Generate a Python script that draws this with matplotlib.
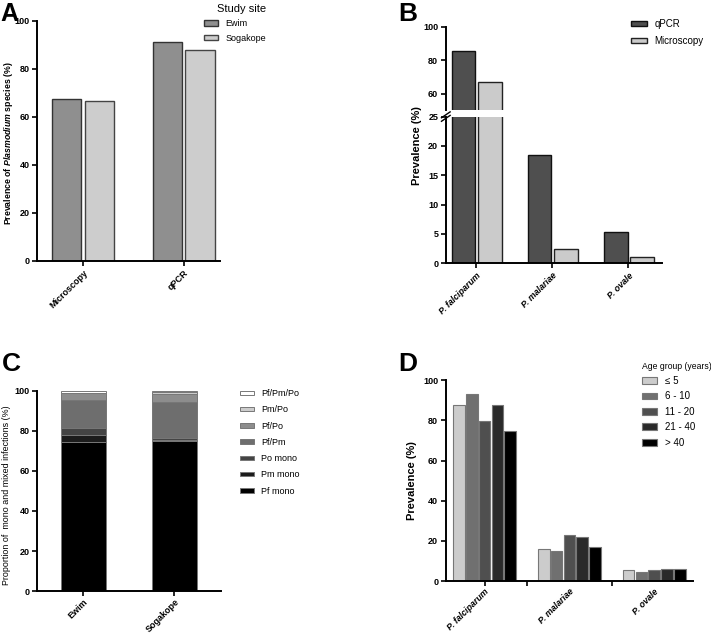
import numpy as np
import matplotlib
matplotlib.use("Agg")
import matplotlib.pyplot as plt

plt.rcParams['font.family'] = ['Liberation Sans', 'DejaVu Sans']
plt.rcParams['mathtext.fontset'] = 'custom'
plt.rcParams['mathtext.it'] = 'Liberation Sans:bold:italic'
plt.rcParams['mathtext.rm'] = 'Liberation Sans:bold'

# ---- data ----
# A: prevalence by method and study site
methods_a = ['Microscopy', 'qPCR']
ewim_a = [67.3, 91.4]
sogakope_a = [66.6, 87.9]

# B: prevalence by species and method (broken axis)
species = ['P. falciparum', 'P. malariae', 'P. ovale']
qpcr_b = [85.5, 18.4, 5.4]
micro_b = [66.8, 2.4, 1.0]

# C: mono and mixed infections by site
sites_c = ['Ewim', 'Sogakope']
infection_types = ['Pf mono', 'Pm mono', 'Po mono', 'Pf/Pm', 'Pf/Po', 'Pm/Po', 'Pf/Pm/Po']
infection_props = {
    'Pf mono': [74.2, 74.9],
    'Pm mono': [3.8, 0.5],
    'Po mono': [3.2, 1.1],
    'Pf/Pm': [14.2, 17.8],
    'Pf/Po': [3.3, 4.1],
    'Pm/Po': [0.0, 1.0],
    'Pf/Pm/Po': [1.3, 0.6],
}

# D: prevalence by species and age group
age_groups = ['\u2264 5', '6 - 10', '11 - 20', '21 - 40', '> 40']
age_prev = [
    [87.6, 16.1, 5.7],
    [93.2, 14.8, 4.6],
    [79.7, 23.1, 5.7],
    [87.6, 22.0, 6.0],
    [74.8, 17.2, 6.3],
]

fig = plt.figure(figsize=(7.11, 6.35), dpi=100)

tick_fs = 6.5
xtick_fs = 6
sp_fs = 6.4
lab_fs = 7.5


def style_axis(ax):
    for s in ['top', 'right']:
        ax.spines[s].set_visible(False)
    for s in ['left', 'bottom']:
        ax.spines[s].set_linewidth(1.4)
    ax.tick_params(width=1.2, length=3.5, labelsize=tick_fs, pad=2)
    for lab in ax.get_yticklabels():
        lab.set_fontweight('bold')


# ---- Panel A ----
axA = fig.add_axes([0.052, 0.589, 0.257, 0.378])
x = np.arange(len(methods_a))
axA.bar(x - 0.162, ewim_a, 0.29, color='#8f8f8f', edgecolor='#333333', linewidth=1, label='Ewim')
axA.bar(x + 0.162, sogakope_a, 0.29, color='#cdcdcd', edgecolor='#444444', linewidth=1, label='Sogakope')
axA.set_xlim(-0.455, 1.356)
axA.set_ylim(0, 100)
axA.set_yticks(range(0, 101, 20))
axA.set_xticks(x)
axA.set_xticklabels(methods_a, rotation=45, ha='right', rotation_mode='anchor',
                    fontweight='bold', fontsize=xtick_fs)
axA.set_ylabel('Prevalence of $\\it{Plasmodium}$ species (%)', fontsize=6.3,
               fontweight='bold')
axA.yaxis.set_label_coords(-0.12, 0.49)
style_axis(axA)
axA.legend(loc='upper left', bbox_to_anchor=(0.278, 1.004), bbox_transform=fig.transFigure,
           frameon=False, fontsize=6.5, title='Study site', title_fontsize=8,
           handlelength=1.6, handleheight=0.5, labelspacing=0.6, alignment='right', borderpad=0.2)
fig.text(0.0, 0.997, 'A', fontsize=18, fontweight='bold', va='top')

# ---- Panel B (broken y axis) ----
axB_lo = fig.add_axes([0.627, 0.5854, 0.304, 0.231])
axB_hi = fig.add_axes([0.627, 0.8263, 0.304, 0.1317])
xb = np.arange(len(species))
for ax in (axB_lo, axB_hi):
    ax.bar(xb - 0.168, qpcr_b, 0.31, color='#4f4f4f', edgecolor='#111111', linewidth=1, label='qPCR')
    ax.bar(xb + 0.178, micro_b, 0.31, color='#cbcbcb', edgecolor='#222222', linewidth=1, label='Microscopy')
    ax.set_xlim(-0.403, 2.44)
axB_lo.set_ylim(0, 25)
axB_lo.set_yticks(range(0, 26, 5))
axB_hi.set_ylim(50, 100)
axB_hi.set_yticks([60, 80, 100])
style_axis(axB_lo)
style_axis(axB_hi)
axB_hi.spines['bottom'].set_visible(False)
axB_hi.set_xticks([])
axB_lo.set_xticks(xb)
axB_lo.set_xticklabels(species, rotation=45, ha='right', rotation_mode='anchor',
                       fontweight='bold', fontstyle='italic', fontsize=sp_fs)
axB_lo.set_ylabel('Prevalence (%)', fontsize=lab_fs + 0.5, fontweight='bold')
axB_lo.yaxis.set_label_coords(-0.11, 0.8)
# break marks
for dy in (-0.012, 0.012):
    axB_lo.plot([-0.02, 0.02], [1.0 + dy - 0.02, 1.0 + dy + 0.02], transform=axB_lo.transAxes,
                color='black', lw=1, clip_on=False)
axB_hi.legend(loc='upper left', bbox_to_anchor=(0.878, 0.981), bbox_transform=fig.transFigure,
              frameon=False, fontsize=7, handlelength=1.6, handleheight=0.5, labelspacing=0.75,
              borderpad=0.2)
fig.text(0.56, 0.997, 'B', fontsize=19, fontweight='bold', va='top')

# ---- Panel C (stacked) ----
axC = fig.add_axes([0.052, 0.069, 0.259, 0.3157])
xc = np.arange(len(sites_c))
c_colors = ['#000000', '#1c1c1c', '#444444', '#6e6e6e', '#8d8d8d', '#cccccc', '#ffffff']
bottom = np.zeros(len(sites_c))
handles = []
for name, col in zip(infection_types, c_colors):
    vals = np.array(infection_props[name])
    h = axC.bar(xc, vals, 0.5, bottom=bottom, color=col, edgecolor='#777777', linewidth=0.7, label=name)
    handles.append(h)
    bottom += vals
axC.set_xlim(-0.509, 1.513)
axC.set_ylim(0, 100)
axC.set_yticks(range(0, 101, 20))
axC.set_xticks(xc)
axC.set_xticklabels(sites_c, rotation=45, ha='right', rotation_mode='anchor',
                    fontweight='bold', fontsize=xtick_fs)
axC.set_ylabel('Proportion of  mono and mixed infections (%)', fontsize=6.4)
axC.yaxis.set_label_coords(-0.14, 0.48)
style_axis(axC)
axC.tick_params(axis='x', pad=1)
axC.legend(handles[::-1], infection_types[::-1], loc='upper left', bbox_to_anchor=(0.328, 0.397),
           bbox_transform=fig.transFigure, frameon=False, fontsize=6.5,
           handlelength=1.6, handleheight=0.4, labelspacing=0.8, borderpad=0.2)
fig.text(0.003, 0.446, 'C', fontsize=19, fontweight='bold', va='top')

# ---- Panel D (grouped by age) ----
axD = fig.add_axes([0.627, 0.0847, 0.348, 0.3168])
axD.xaxis.remove_overlapping_locs = False
xd = np.arange(len(species))
d_colors = ['#cccccc', '#707070', '#4f4f4f', '#2a2a2a', '#000000']
pitch = 0.151
for i, (grp, col) in enumerate(zip(age_groups, d_colors)):
    axD.bar(xd + (i - 2) * pitch, age_prev[i], 0.138, color=col, edgecolor='#777777',
            linewidth=0.8, label=grp)
axD.set_xlim(-0.458, 2.46)
axD.set_ylim(0, 100)
axD.set_yticks(range(0, 101, 20))
axD.set_xticks([0, 0.5, 1.5])
axD.set_xticklabels([])
axD.set_xticks(xd, minor=True)
axD.set_xticklabels(species, minor=True, rotation=45, ha='right', rotation_mode='anchor',
                    fontweight='bold', fontstyle='italic', fontsize=sp_fs)
axD.set_ylabel('Prevalence (%)', fontsize=lab_fs + 0.5, fontweight='bold')
style_axis(axD)
axD.tick_params(axis='x', which='minor', length=0, pad=4)
axD.legend(loc='upper left', bbox_to_anchor=(0.893, 0.441), bbox_transform=fig.transFigure,
           frameon=False, fontsize=7, title='Age group (years)', title_fontsize=6.2,
           handlelength=1.6, handleheight=0.7, labelspacing=0.55, alignment='left', borderpad=0.2)
fig.text(0.56, 0.446, 'D', fontsize=19, fontweight='bold', va='top')

fig.savefig('out.png', dpi=100)
